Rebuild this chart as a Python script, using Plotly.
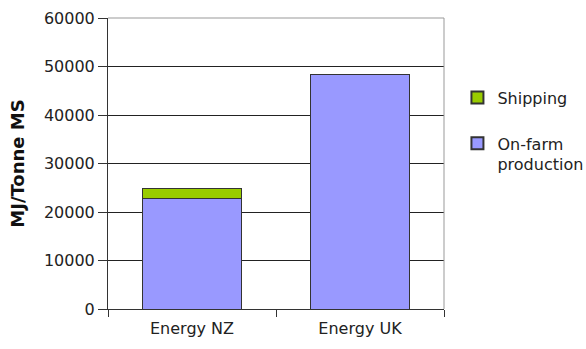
import plotly.graph_objects as go

categories = ["Energy NZ", "Energy UK"]
onfarm = [22700, 48300]
shipping = [2100, 0]
yticks = [0, 10000, 20000, 30000, 40000, 50000, 60000]

font = "DejaVu Sans, Arial, sans-serif"
fig = go.Figure()
fig.add_trace(go.Bar(x=categories, y=onfarm, name="On-farm<br>production", legendgroup="b",
                     legendrank=2,
                     marker=dict(color="#9999FF", line=dict(color="#333333", width=1))))
fig.add_trace(go.Bar(x=categories, y=shipping, name="Shipping", legendgroup="a",
                     legendrank=1,
                     marker=dict(color="#99CC00", line=dict(color="#333333", width=1))))

fig.update_layout(
    width=586, height=349,
    margin=dict(l=108, r=142, t=18, b=40, autoexpand=False),
    barmode="stack", bargap=0.41,
    paper_bgcolor="white", plot_bgcolor="white",
    font=dict(family=font, size=16, color="#222222"),
    showlegend=True,
    legend=dict(traceorder="grouped", x=1.04, xanchor="left", y=0.785, yanchor="top",
                valign="top", tracegroupgap=22, itemsizing="constant",
                font=dict(size=16, color="#222222"), bgcolor="rgba(0,0,0,0)"),
    xaxis=dict(showline=True, linecolor="#333333", linewidth=1, ticks="outside",
               ticklen=7, tickcolor="#333333", tickson="boundaries",
               tickfont=dict(size=16), showgrid=False, ticklabelstandoff=5),
    yaxis=dict(range=[0, 60000], tickvals=yticks, ticktext=[str(v) for v in yticks],
               showline=True, linecolor="#333333", linewidth=1, ticks="outside",
               ticklen=9, tickcolor="#333333", showgrid=True, gridcolor="#222222",
               gridwidth=1, zeroline=False, tickfont=dict(size=16),
               title=dict(text="<b>MJ/Tonne MS</b>", font=dict(size=18, color="#111111"), standoff=14)),
    shapes=[
        dict(type="line", xref="paper", yref="paper", x0=0, x1=1, y0=1, y1=1,
             line=dict(color="#999999", width=1), layer="above"),
        dict(type="line", xref="paper", yref="paper", x0=1, x1=1, y0=0, y1=1,
             line=dict(color="#999999", width=1), layer="above"),
    ],
)

fig.write_html("out.html")
